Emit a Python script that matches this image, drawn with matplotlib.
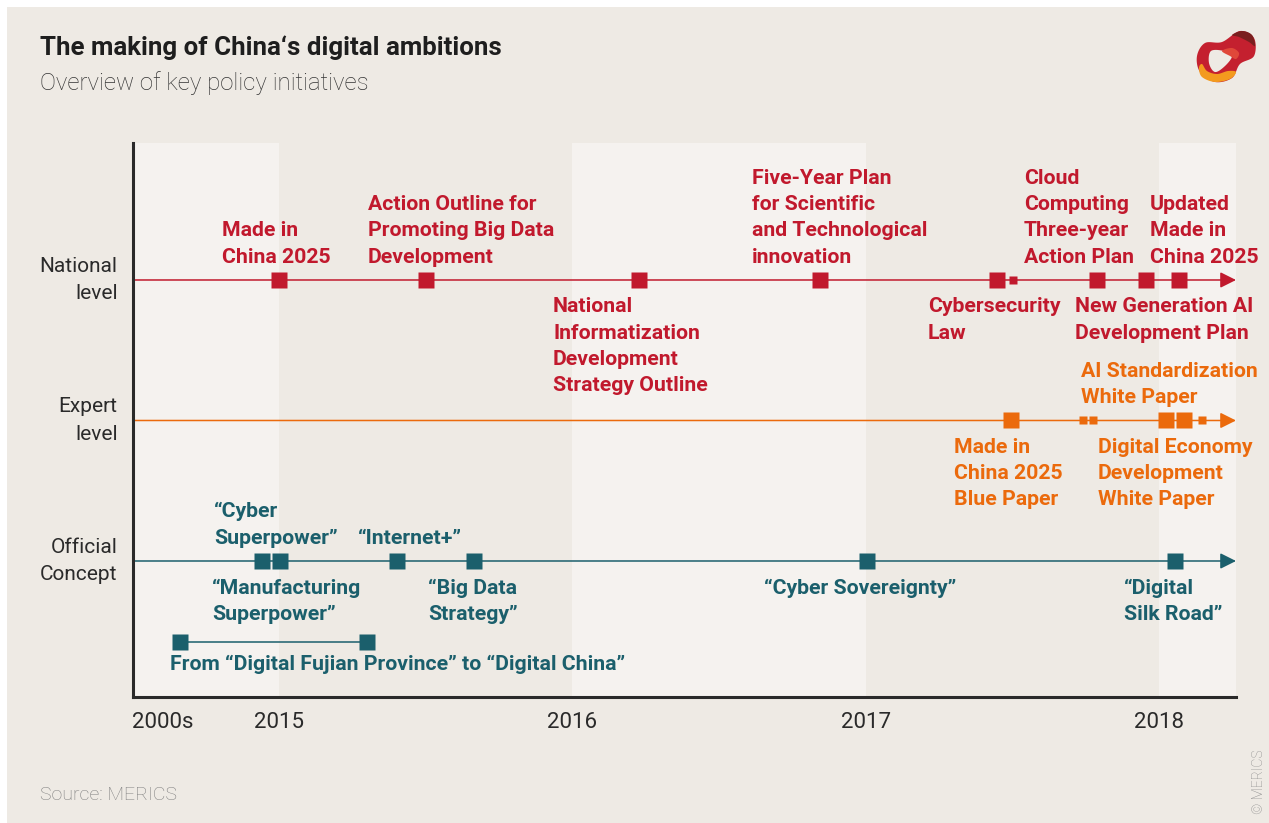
import numpy as np
import matplotlib.pyplot as plt
from matplotlib.patches import Rectangle, Polygon
from matplotlib.path import Path as MPath
from matplotlib.patches import PathPatch

# ---- data (dates as decimal years) ----
year_ticks = [2014.605, 2015, 2016, 2017, 2018]
year_tick_labels = ["2000s", "2015", "2016", "2017", "2018"]

national_dates = [2015.0, 2015.501, 2016.227, 2016.843, 2017.446, 2017.501,
                  2017.787, 2017.954, 2018.066]
national_minor = [False, False, False, False, False, True, False, False, False]
national_labels = [
    "Made in\nChina 2025",
    "Action Outline for\nPromoting Big Data\nDevelopment",
    "National\nInformatization\nDevelopment\nStrategy Outline",
    "Five-Year Plan\nfor Scientific\nand Technological\ninnovation",
    "Cybersecurity\nLaw",
    "Cloud\nComputing\nThree-year\nAction Plan",
    "New Generation AI\nDevelopment Plan",
    "Updated\nMade in\nChina 2025",
]

expert_dates = [2017.494, 2017.739, 2017.773, 2018.022, 2018.083, 2018.145]
expert_minor = [False, True, True, False, False, True]
expert_labels = [
    "AI Standardization\nWhite Paper",
    "Made in\nChina 2025\nBlue Paper",
    "Digital Economy\nDevelopment\nWhite Paper",
]

official_dates = [2014.942, 2015.003, 2015.402, 2015.664, 2017.003, 2018.053]
official_labels = [
    "\u201cCyber\nSuperpower\u201d",
    "\u201cInternet+\u201d",
    "\u201cManufacturing\nSuperpower\u201d",
    "\u201cBig Data\nStrategy\u201d",
    "\u201cCyber Sovereignty\u201d",
    "\u201cDigital\nSilk Road\u201d",
]

fujian_dates = [2014.663, 2015.300]
fujian_label = "From \u201cDigital Fujian Province\u201d to \u201cDigital China\u201d"

row_names = ["National\nlevel", "Expert\nlevel", "Official\nConcept"]

# ---- layout: label left edge (year) and side (+1 above, -1 below) ----
national_label_pos = [(2014.806, 1), (2015.303, 1), (2015.934, -1), (2016.612, 1),
                      (2017.211, -1), (2017.538, 1), (2017.712, -1), (2017.968, 1)]
expert_label_pos = [(2017.733, 1), (2017.300, -1), (2017.790, -1)]
official_label_pos = [(2014.779, 1), (2015.269, 1), (2014.772, -1), (2015.508, -1),
                      (2016.652, -1), (2017.879, -1)]

RED = "#C1192D"
ORANGE = "#EB6A0C"
TEAL = "#1B5F6C"
BG = "#EEEAE4"
BAND = "#F5F2EF"
DARK = "#2A2A2A"
LABEL_FS = 15.3
LABEL_LS = 1.48

plt.rcParams["font.family"] = ["Roboto", "DejaVu Sans"]

W, H = 1269, 823
fig = plt.figure(figsize=(W / 100, H / 100), dpi=100)
fig.patch.set_facecolor("white")
fig.patches.append(Rectangle((7 / W, 0), 1, 1 - 7 / H, transform=fig.transFigure,
                             facecolor=BG, edgecolor="none", zorder=-10))

x0, x1 = 2014.503, 2018.261
y_nat, y_exp, y_off, y_fuj = 3.0, 2.0, 1.0, 0.426
ax = fig.add_axes([133 / W, (823 - 697) / H, (1236 - 133) / W, (697 - 143) / H])
ax.set_xlim(x0, x1)
ax.set_ylim(0.032, 3.975)
ax.set_facecolor(BG)

# alternating year bands
band_edges = [x0, 2015, 2016, 2017, 2018, x1]
for i in range(len(band_edges) - 1):
    if i % 2 == 0:
        ax.axvspan(band_edges[i], band_edges[i + 1], color=BAND, lw=0, zorder=0)

for s in ["top", "right"]:
    ax.spines[s].set_visible(False)
for s in ["left", "bottom"]:
    ax.spines[s].set_linewidth(2.2)
    ax.spines[s].set_color(DARK)
ax.set_yticks([])
ax.set_xticks(year_ticks)
ax.set_xticklabels(year_tick_labels, fontsize=16, color=DARK)
ax.tick_params(axis="x", length=0, pad=11)

big_ms, small_ms = 11.5, 5.5


def draw_row(y, dates, minor, color):
    ax.annotate("", xy=(x1, y), xytext=(x0, y),
                arrowprops=dict(arrowstyle="-|>", color=color, lw=1.1,
                                mutation_scale=24, shrinkA=0, shrinkB=0),
                zorder=2, annotation_clip=False)
    for d, m in zip(dates, minor):
        ax.plot(d, y, marker="s", ms=small_ms if m else big_ms, color=color,
                mec="none", zorder=3, clip_on=False)


def draw_labels(y, labels, positions, color):
    for text, (lx, side) in zip(labels, positions):
        if side > 0:
            ax.annotate(text, xy=(lx, y), xytext=(0, 12.5), textcoords="offset points",
                        ha="left", va="baseline", fontsize=LABEL_FS, fontweight="bold",
                        color=color, linespacing=LABEL_LS)
        else:
            ax.annotate(text, xy=(lx, y), xytext=(0, -12.5), textcoords="offset points",
                        ha="left", va="top", fontsize=LABEL_FS, fontweight="bold",
                        color=color, linespacing=LABEL_LS)


draw_row(y_nat, national_dates, national_minor, RED)
draw_row(y_exp, expert_dates, expert_minor, ORANGE)
draw_row(y_off, official_dates, [False] * len(official_dates), TEAL)
draw_labels(y_nat, national_labels, national_label_pos, RED)
draw_labels(y_exp, expert_labels, expert_label_pos, ORANGE)
draw_labels(y_off, official_labels, official_label_pos, TEAL)

ax.plot(fujian_dates, [y_fuj, y_fuj], color=TEAL, lw=1.1, zorder=2)
ax.plot(fujian_dates, [y_fuj, y_fuj], ls="none", marker="s", ms=big_ms, color=TEAL,
        mec="none", zorder=3)
ax.annotate(fujian_label, xy=(2014.629, y_fuj), xytext=(0, -9.5), textcoords="offset points",
            ha="left", va="top", fontsize=LABEL_FS, fontweight="bold", color=TEAL)

for name, y in zip(row_names, [y_nat, y_exp, y_off]):
    ax.annotate(name, xy=(0, y), xycoords=("axes fraction", "data"), xytext=(-11, 0),
                textcoords="offset points", ha="right", va="center", fontsize=15,
                color=DARK, linespacing=1.55, multialignment="right", annotation_clip=False)

# titles and notes
fig.text(40 / W, 1 - 48 / H, "The making of China\u2018s digital ambitions", fontsize=18.6,
         fontweight="bold", color="#1E1E1E", va="center")
fig.text(40 / W, 1 - 83 / H, "Overview of key policy initiatives", fontsize=17.3,
         fontweight="light", color="#333333", va="center")
fig.text(40 / W, 1 - 795 / H, "Source: MERICS", fontsize=14, fontweight="light",
         color="#7E7E7E", va="center")
fig.text(1259 / W, 1 - 782 / H, "\u00a9 MERICS", fontsize=10, fontweight="light",
         color="#8A8A8A", rotation=90, ha="center", va="center")


# logo: smooth closed blobs through a few anchor points
def smooth_closed(points, n=24):
    p = np.array(points, dtype=float)
    out = []
    k = len(p)
    for i in range(k):
        a, b, c, d = p[i - 1], p[i], p[(i + 1) % k], p[(i + 2) % k]
        for t in np.linspace(0, 1, n, endpoint=False):
            t2, t3 = t * t, t * t * t
            out.append(0.5 * ((2 * b) + (-a + c) * t + (2 * a - 5 * b + 4 * c - d) * t2
                              + (-a + 3 * b - 3 * c + d) * t3))
    return np.array(out)


lax = fig.add_axes([1192 / W, 1 - 84 / H, 66 / W, 58 / H])
lax.set_xlim(0, 66)
lax.set_ylim(0, 58)
lax.axis("off")
outer = smooth_closed([(8, 12), (5, 28), (13, 41), (30, 42), (48, 53), (62, 46),
                       (62, 28), (48, 20), (40, 6), (23, 2)])
hole = smooth_closed([(19, 33), (32, 33), (40, 28), (33, 18), (23, 12), (17, 21)])
verts = np.vstack([outer, outer[:1], hole[::-1], hole[-1:]])
codes = ([MPath.MOVETO] + [MPath.LINETO] * (len(outer) - 1) + [MPath.CLOSEPOLY] +
         [MPath.MOVETO] + [MPath.LINETO] * (len(hole) - 1) + [MPath.CLOSEPOLY])
lax.add_patch(PathPatch(MPath(verts, codes), facecolor="#C4202F", edgecolor="none"))
orange = smooth_closed([(7, 16), (10, 7), (23, 2), (38, 5), (44, 12), (36, 13), (25, 10),
                        (15, 13), (10, 20)])
lax.add_patch(Polygon(orange, facecolor="#F39A1E", edgecolor="none"))
dark = smooth_closed([(40, 49), (50, 53), (60, 49), (63, 38), (57, 42), (47, 47)])
lax.add_patch(Polygon(dark, facecolor="#7A1F1F", edgecolor="none"))
inner_red = smooth_closed([(30, 33), (40, 36), (47, 31), (44, 25), (38, 28)])
lax.add_patch(Polygon(inner_red, facecolor="#E0483A", edgecolor="none"))

fig.savefig("out.png", dpi=100, facecolor=fig.get_facecolor())
